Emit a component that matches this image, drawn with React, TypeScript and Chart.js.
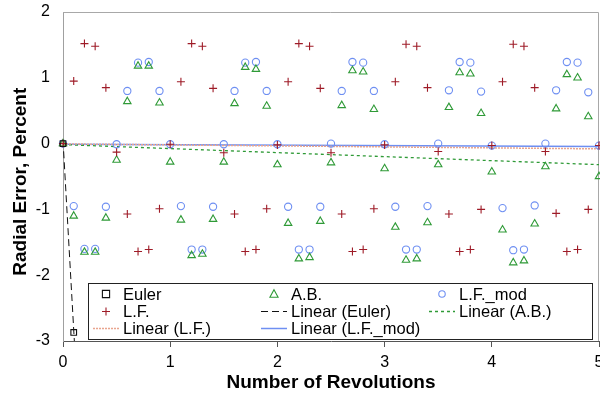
import React, { useEffect, useRef } from 'react';
import { Chart, registerables } from 'chart.js';

Chart.register(...registerables);

// ---------- data ----------
const revolutions = [
  0.0, 0.1, 0.2, 0.3, 0.4, 0.5, 0.6, 0.7, 0.8, 0.9,
  1.0, 1.1, 1.2, 1.3, 1.4, 1.5, 1.6, 1.7, 1.8, 1.9,
  2.0, 2.1, 2.2, 2.3, 2.4, 2.5, 2.6, 2.7, 2.8, 2.9,
  3.0, 3.1, 3.2, 3.3, 3.4, 3.5, 3.6, 3.7, 3.8, 3.9,
  4.0, 4.1, 4.2, 4.3, 4.4, 4.5, 4.6, 4.7, 4.8, 4.9,
  5.0,
];

const eulerRevs = [0.0, 0.1];
const eulerValues = [0.0, -2.87];

const lfValues = [
  0.0, 0.95, 1.52, 1.48, 0.85, -0.13, -1.07, -1.64, -1.61, -0.99,
  -0.01, 0.94, 1.52, 1.48, 0.84, -0.14, -1.07, -1.64, -1.61, -0.99,
  -0.02, 0.94, 1.52, 1.48, 0.84, -0.14, -1.07, -1.64, -1.61, -0.99,
  -0.02, 0.94, 1.51, 1.48, 0.85, -0.12, -1.07, -1.64, -1.61, -1.0,
  -0.03, 0.94, 1.51, 1.48, 0.85, -0.12, -1.06, -1.64, -1.61, -1.0,
  -0.03,
];

const abValues = [
  0.0, -1.1, -1.65, -1.65, -1.13, -0.25, 0.64, 1.18, 1.18, 0.62,
  -0.28, -1.16, -1.7, -1.68, -1.15, -0.28, 0.61, 1.16, 1.13, 0.57,
  -0.32, -1.21, -1.75, -1.73, -1.18, -0.29, 0.58, 1.11, 1.09, 0.52,
  -0.38, -1.27, -1.77, -1.75, -1.2, -0.32, 0.55, 1.08, 1.06, 0.46,
  -0.43, -1.31, -1.81, -1.78, -1.22, -0.35, 0.53, 1.05, 1.0, 0.41,
  -0.5,
];

const lfModValues = [
  0.0, -0.95, -1.6, -1.6, -0.96, -0.01, 0.8, 1.23, 1.24, 0.8,
  -0.01, -0.95, -1.61, -1.61, -0.96, -0.01, 0.8, 1.23, 1.24, 0.8,
  -0.01, -0.96, -1.61, -1.61, -0.96, 0.0, 0.8, 1.24, 1.23, 0.8,
  -0.01, -0.96, -1.61, -1.61, -0.95, 0.0, 0.81, 1.24, 1.23, 0.79,
  -0.03, -0.98, -1.62, -1.61, -0.94, 0.0, 0.81, 1.24, 1.23, 0.78,
  -0.03,
];

// trend lines (end points)
const trendRevs = [0, 5];
const eulerTrendRevs = [0, 0.11];
const eulerTrend = [0.05, -3.12];
const lfTrend = [-0.005, -0.08];
const abTrend = [-0.015, -0.32];
const lfModTrend = [-0.01, -0.045];

const xMin = 0;
const xMax = 5;
const yMin = -3;
const yMax = 2;

const seriesNames = [
  'Euler',
  'L.F.',
  'A.B.',
  'L.F._mod',
  'Linear (Euler)',
  'Linear (L.F.)',
  'Linear (A.B.)',
  'Linear (L.F._mod)',
];
// legend grid (row-major), indexes into seriesNames
const legendGrid = [
  [0, 2, 3],
  [1, 4, 6],
  [5, 7, -1],
];

const FONT = "'Liberation Sans', Arial, Helvetica, sans-serif";

const pts = (xs: number[], ys: number[]) => xs.map((x, i) => ({ x, y: ys[i] }));

function drawSymbol(ctx: CanvasRenderingContext2D, ds: any, cx: number, cy: number) {
  ctx.save();
  ctx.strokeStyle = ds.borderColor;
  ctx.lineWidth = ds.borderWidth || 1;
  if (ds.showLine) {
    ctx.setLineDash(ds.borderDash || []);
    ctx.beginPath();
    ctx.moveTo(cx - 13, cy);
    ctx.lineTo(cx + 13, cy);
    ctx.stroke();
  } else {
    const r = ds.pointRadius;
    ctx.lineWidth = ds.pointBorderWidth || 1;
    ctx.beginPath();
    if (ds.pointStyle === 'rect') {
      const h = r * 0.9;
      ctx.rect(cx - h, cy - h, 2 * h, 2 * h);
    } else if (ds.pointStyle === 'cross') {
      ctx.moveTo(cx - r, cy);
      ctx.lineTo(cx + r, cy);
      ctx.moveTo(cx, cy - r);
      ctx.lineTo(cx, cy + r);
    } else if (ds.pointStyle === 'triangle') {
      ctx.moveTo(cx, cy - r);
      ctx.lineTo(cx + r * 0.95, cy + r * 0.75);
      ctx.lineTo(cx - r * 0.95, cy + r * 0.75);
      ctx.closePath();
    } else {
      ctx.arc(cx, cy, r * 0.9, 0, Math.PI * 2);
    }
    ctx.stroke();
  }
  ctx.restore();
}

const legendPlugin = {
  id: 'gridLegend',
  afterDraw(chart: any) {
    const { ctx, chartArea } = chart;
    const left = 88;
    const right = chartArea.right - 7;
    const bottom = chartArea.bottom - 2;
    const top = bottom - 56;
    ctx.save();
    ctx.fillStyle = '#ffffff';
    ctx.fillRect(left, top, right - left, bottom - top);
    ctx.strokeStyle = '#222';
    ctx.lineWidth = 1;
    ctx.strokeRect(left + 0.5, top + 0.5, right - left, bottom - top);
    const rowY = [top + 11, top + 28.5, top + 45.5];
    const colX = [left + 18, left + 186, left + 354];
    ctx.font = `16.5px ${FONT}`;
    ctx.fillStyle = '#000';
    ctx.textBaseline = 'middle';
    ctx.textAlign = 'left';
    legendGrid.forEach((row, r) => {
      row.forEach((idx, c) => {
        if (idx < 0) return;
        const ds = chart.data.datasets[idx];
        drawSymbol(ctx, ds, colX[c], rowY[r]);
        ctx.fillStyle = '#000';
        ctx.fillText(seriesNames[idx], colX[c] + 17, rowY[r] + 1);
      });
    });
    ctx.restore();
  },
};

const framePlugin = {
  id: 'frame',
  beforeDatasetsDraw(chart: any) {
    const { ctx, chartArea } = chart;
    ctx.save();
    ctx.strokeStyle = '#a8a8a8';
    ctx.lineWidth = 1;
    ctx.beginPath();
    ctx.moveTo(chartArea.left, chartArea.top + 0.5);
    ctx.lineTo(chartArea.right - 0.5, chartArea.top + 0.5);
    ctx.lineTo(chartArea.right - 0.5, chartArea.bottom);
    ctx.stroke();
    ctx.restore();
  },
};

export default function App() {
  const ref = useRef<HTMLCanvasElement>(null);

  useEffect(() => {
    document.body.style.margin = '0';
    const canvas = ref.current;
    if (!canvas) return;

    const markers = (label: string, data: any[], style: string, color: string, radius: number) => ({
      label,
      data,
      showLine: false,
      pointStyle: style,
      pointRadius: radius,
      pointHoverRadius: radius,
      pointBorderWidth: 1.1,
      borderColor: color,
      backgroundColor: 'rgba(0,0,0,0)',
      pointBackgroundColor: 'rgba(0,0,0,0)',
      clip: false,
    });
    const trend = (label: string, data: any[], color: string, dash: number[], width: number) => ({
      label,
      data,
      showLine: true,
      borderColor: color,
      borderWidth: width,
      borderDash: dash,
      pointRadius: 0,
      backgroundColor: 'rgba(0,0,0,0)',
      fill: false,
    });

    const chart = new Chart(canvas, {
      type: 'scatter',
      data: {
        datasets: [
          markers(seriesNames[0], pts(eulerRevs, eulerValues), 'rect', '#111111', 4),
          markers(seriesNames[1], pts(revolutions, lfValues), 'cross', '#9e1b27', 4),
          markers(seriesNames[2], pts(revolutions, abValues), 'triangle', '#2f9a37', 4.3),
          markers(seriesNames[3], pts(revolutions, lfModValues), 'circle', '#6e8ff2', 3.6),
          trend(seriesNames[4], pts(eulerTrendRevs, eulerTrend), '#111111', [7, 4], 1),
          trend(seriesNames[5], pts(trendRevs, lfTrend), '#e9a58e', [2, 1], 1.5),
          trend(seriesNames[6], pts(trendRevs, abTrend), '#2f9a37', [3, 3], 1.3),
          trend(seriesNames[7], pts(trendRevs, lfModTrend), '#6e8ff2', [], 1.5),
        ] as any,
      },
      options: {
        responsive: false,
        animation: false,
        layout: { autoPadding: false, padding: { top: 12, right: 1, left: 0, bottom: 0 } },
        plugins: {
          legend: { display: false },
          tooltip: { enabled: false },
        },
        scales: {
          x: {
            type: 'linear',
            min: xMin,
            max: xMax,
            ticks: {
              stepSize: 1,
              color: '#000',
              font: { family: FONT, size: 16 },
              padding: 6,
            },
            grid: {
              drawOnChartArea: false,
              drawTicks: true,
              tickLength: 6,
              color: '#555',
            },
            border: { display: true, color: '#555', width: 1 },
            title: {
              display: true,
              text: 'Number of Revolutions',
              color: '#000',
              font: { family: FONT, size: 19, weight: 'bold' },
              padding: { top: 0, bottom: 6 },
            },
            afterFit: (s: any) => {
              s.height = 59;
              s.paddingLeft = 0;
              s.paddingRight = 0;
            },
          },
          y: {
            type: 'linear',
            min: yMin,
            max: yMax,
            ticks: {
              stepSize: 1,
              color: '#000',
              font: { family: FONT, size: 16 },
              padding: 13,
            },
            grid: {
              drawOnChartArea: false,
              drawTicks: false,
            },
            border: { display: true, color: '#a0a0a0', width: 1 },
            title: {
              display: true,
              text: 'Radial Error, Percent  ',
              color: '#000',
              font: { family: FONT, size: 19, weight: 'bold' },
              padding: { top: 9, bottom: 0 },
            },
            afterFit: (s: any) => {
              s.width = 63;
              s.paddingTop = 0;
              s.paddingBottom = 0;
            },
          },
        },
      } as any,
      plugins: [framePlugin, legendPlugin],
    });

    return () => chart.destroy();
  }, []);

  return (
    <div style={{ width: 600, height: 400, background: '#fff' }}>
      <canvas ref={ref} width={600} height={400} style={{ width: 600, height: 400, display: 'block' }} />
    </div>
  );
}
